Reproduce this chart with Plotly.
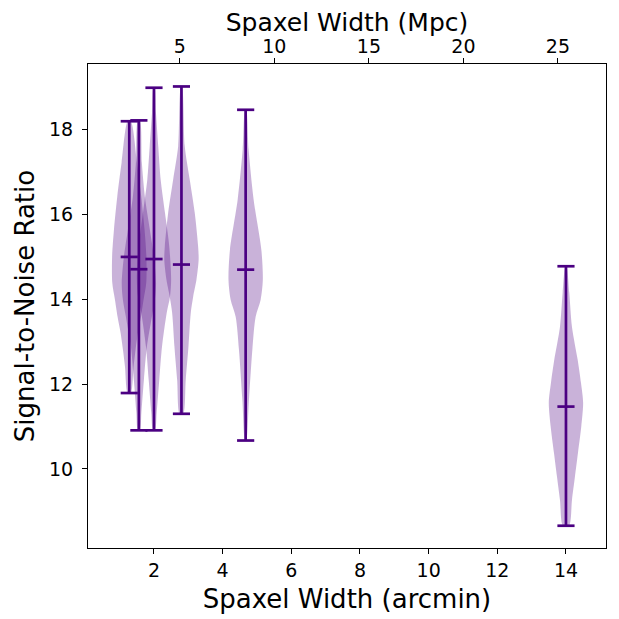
import plotly.graph_objects as go

# ---- data ----
positions = [1.28, 1.56, 2.00, 2.80, 4.67, 14.00]          # arcmin
maxima    = [18.20, 18.22, 18.99, 19.02, 18.47, 14.78]
minima    = [11.79, 10.91, 10.91, 11.30, 10.67, 8.66]
medians   = [15.00, 14.71, 14.95, 14.82, 14.70, 11.47]

# violin outlines: signal-to-noise levels and half-widths (arcmin)
v1_levels = [18.20, 17.22, 16.42, 15.64, 15.00, 14.39, 13.99, 13.59, 13.21, 12.81, 12.41, 11.79]
v1_half   = [0.044, 0.224, 0.350, 0.446, 0.500, 0.495, 0.417, 0.341, 0.253, 0.184, 0.125, 0.044]
v2_levels = [18.22, 17.22, 16.42, 15.64, 15.00, 14.39, 13.99, 13.59, 12.88, 12.10, 11.33, 10.91]
v2_half   = [0.029, 0.087, 0.175, 0.320, 0.437, 0.500, 0.466, 0.379, 0.233, 0.146, 0.073, 0.029]
v3_levels = [18.99, 18.40, 17.60, 16.82, 16.04, 15.24, 14.46, 14.06, 13.68, 12.88, 12.10, 11.33, 10.91]
v3_half   = [0.015, 0.058, 0.125, 0.195, 0.320, 0.446, 0.500, 0.466, 0.370, 0.233, 0.154, 0.079, 0.029]
v4_levels = [19.02, 17.61, 16.82, 16.04, 15.24, 14.93, 14.46, 14.06, 13.68, 12.88, 12.10, 11.30]
v4_half   = [0.015, 0.096, 0.242, 0.387, 0.486, 0.500, 0.437, 0.341, 0.271, 0.204, 0.125, 0.050]
v5_levels = [18.47, 17.53, 16.35, 15.17, 14.46, 13.99, 13.59, 12.81, 11.63, 10.67]
v5_half   = [0.015, 0.087, 0.233, 0.457, 0.500, 0.437, 0.291, 0.195, 0.096, 0.015]
v6_levels = [14.78, 14.16, 13.35, 12.58, 12.03, 11.56, 11.00, 10.38, 9.82, 9.27, 8.66]
v6_half   = [0.015, 0.096, 0.175, 0.340, 0.437, 0.500, 0.446, 0.350, 0.262, 0.175, 0.087]

levels_all = [v1_levels, v2_levels, v3_levels, v4_levels, v5_levels, v6_levels]
half_all = [v1_half, v2_half, v3_half, v4_half, v5_half, v6_half]

bottom_ticks = [2, 4, 6, 8, 10, 12, 14]
top_ticks = [5, 10, 15, 20, 25]
y_ticks = [10, 12, 14, 16, 18]
MPC_PER_ARCMIN = 1.816
x_range = [0.078, 15.166]
y_range = [8.135, 19.55]

LINE = "#4B0082"
FILL = "rgba(75,0,130,0.3)"
FONT = "DejaVu Sans"

fig = go.Figure()

for pos, lev, hw in zip(positions, levels_all, half_all):
    xs = [pos + h for h in hw] + [pos - h for h in reversed(hw)]
    ys = list(lev) + list(reversed(lev))
    xs.append(xs[0]); ys.append(ys[0])
    fig.add_trace(go.Scatter(x=xs, y=ys, mode="lines", fill="toself",
                             fillcolor=FILL, line=dict(width=0, shape="spline", smoothing=0.8),
                             hoverinfo="skip", showlegend=False))

lx, ly = [], []
for pos, mx, mn, md in zip(positions, maxima, minima, medians):
    lx += [pos, pos, None]; ly += [mn, mx, None]
    for v in (mx, mn, md):
        lx += [pos - 0.25, pos + 0.25, None]; ly += [v, v, None]
fig.add_trace(go.Scatter(x=lx, y=ly, mode="lines", line=dict(color=LINE, width=2.7),
                         hoverinfo="skip", showlegend=False))

# invisible trace for the top (Mpc) axis
fig.add_trace(go.Scatter(x=[p * MPC_PER_ARCMIN for p in positions], y=medians,
                         xaxis="x2", mode="markers", marker=dict(opacity=0),
                         hoverinfo="skip", showlegend=False))

axis_common = dict(showgrid=False, zeroline=False, showline=True, linecolor="black",
                   linewidth=1.1, ticks="outside", ticklen=5, tickwidth=1.1,
                   tickcolor="black", tickfont=dict(family=FONT, size=19, color="black"))

# the page body has an 8px default margin, so the margins compensate for it
fig.update_layout(
    width=619, height=619,
    margin=dict(l=80, r=21, t=56, b=79, autoexpand=False),
    paper_bgcolor="white", plot_bgcolor="white",
    font=dict(family=FONT, color="black"),
    xaxis=dict(range=x_range, tickvals=bottom_ticks, mirror=False,
               title=dict(text="Spaxel Width (arcmin)", font=dict(size=26), standoff=9),
               **axis_common),
    xaxis2=dict(range=[x_range[0] * MPC_PER_ARCMIN, x_range[1] * MPC_PER_ARCMIN],
                tickvals=top_ticks, overlaying="x", side="top", anchor="y",
                ticklabelstandoff=-3,
                title=dict(text="Spaxel Width (Mpc)", font=dict(size=25), standoff=6),
                **axis_common),
    yaxis=dict(range=y_range, tickvals=y_ticks, mirror=True, ticklabelstandoff=5,
               title=dict(text="Signal-to-Noise Ratio", font=dict(size=26), standoff=6),
               **axis_common),
)

fig.write_html("out.html")
